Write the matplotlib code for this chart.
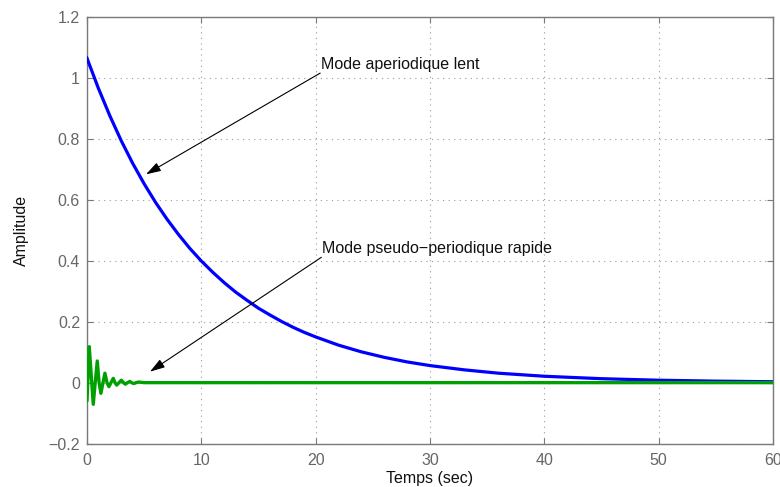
import matplotlib
matplotlib.use("Agg")
import matplotlib.pyplot as plt

plt.rcParams['font.family'] = ['Liberation Sans', 'DejaVu Sans']

# Mode apériodique lent (lecture de la réponse, pas de 1 s puis plus large)
t_lent = [0, 1, 2, 3, 4, 5, 6, 7, 8, 9, 10, 11, 12, 13, 14, 15, 16, 17, 18, 19,
          20, 22, 24, 26, 28, 30, 33, 36, 40, 45, 50, 55, 60]
y_lent = [1.064, 0.965, 0.875, 0.793, 0.719, 0.652, 0.591, 0.536, 0.486, 0.440,
          0.399, 0.362, 0.328, 0.297, 0.270, 0.244, 0.222, 0.201, 0.182, 0.165,
          0.150, 0.123, 0.101, 0.083, 0.068, 0.056, 0.042, 0.031, 0.021, 0.013,
          0.008, 0.005, 0.003]

# Mode pseudo-périodique rapide (pics, creux et passages par zéro)
t_rapide = [0, 0.2, 0.38, 0.55, 0.72, 0.9, 1.06, 1.22, 1.4, 1.57, 1.75, 1.92,
            2.1, 2.3, 2.45, 2.6, 2.8, 3.0, 3.2, 3.35, 3.55, 3.75, 3.9, 4.1,
            4.3, 4.5, 5.0, 60]
y_rapide = [-0.06, 0.118, 0.02, -0.071, 0.0, 0.071, 0.0, -0.035, 0.0, 0.031,
            0.0, -0.013, 0.0, 0.014, 0.0, -0.008, 0.0, 0.008, 0.0, -0.005,
            0.0, 0.004, 0.0, -0.003, 0.0, 0.002, 0.0, 0.0]

x_ticks = [0, 10, 20, 30, 40, 50, 60]
y_ticks = [-0.2, 0, 0.2, 0.4, 0.6, 0.8, 1, 1.2]
y_tick_labels = ['\u22120.2', '0', '0.2', '0.4', '0.6', '0.8', '1', '1.2']

fig = plt.figure(figsize=(7.8, 4.87), dpi=100)
ax = fig.add_axes([0.1115, 0.089, 0.8795, 0.8768])

ax.plot(t_lent, y_lent, color='#0000ff', lw=2.3, solid_joinstyle='round', zorder=3)
ax.plot(t_rapide, y_rapide, color='#00a000', lw=2.4, solid_joinstyle='round',
        solid_capstyle='round', zorder=3)

ax.set_xlim(0, 60)
ax.set_ylim(-0.2, 1.2)
ax.set_xticks(x_ticks)
ax.set_yticks(y_ticks)
ax.set_yticklabels(y_tick_labels)

gris = '#7a7a7a'
for s in ax.spines.values():
    s.set_color(gris)
    s.set_linewidth(1.0)
ax.tick_params(direction='in', top=True, right=True, length=4, width=0.8,
               colors=gris, labelsize=11.5, labelcolor='#666666')
ax.tick_params(axis='x', pad=7)
ax.tick_params(axis='y', pad=5)

ax.grid(True, color='#9a9a9a', linestyle=(0, (1, 4)), linewidth=0.8)
ax.set_axisbelow(True)

ax.set_xlabel('Temps (sec)', fontsize=11.5, color='#111111', labelpad=2)
ax.set_ylabel('Amplitude', fontsize=11.5, color='#111111', labelpad=14)

fleche = dict(arrowstyle='-|>,head_length=0.9,head_width=0.28', color='black',
              lw=0.8, shrinkA=0, shrinkB=0)

ax.annotate('', xy=(5.16, 0.683), xytext=(20.4, 1.015), arrowprops=fleche, zorder=4)
ax.text(20.45, 1.028, 'Mode aperiodique lent', fontsize=11.5, color='#111111',
        ha='left', va='baseline')

ax.annotate('', xy=(5.51, 0.036), xytext=(20.5, 0.411), arrowprops=fleche, zorder=4)
ax.text(20.55, 0.426, 'Mode pseudo\u2212periodique rapide', fontsize=11.5,
        color='#111111', ha='left', va='baseline')

fig.savefig('out.png', dpi=100)
